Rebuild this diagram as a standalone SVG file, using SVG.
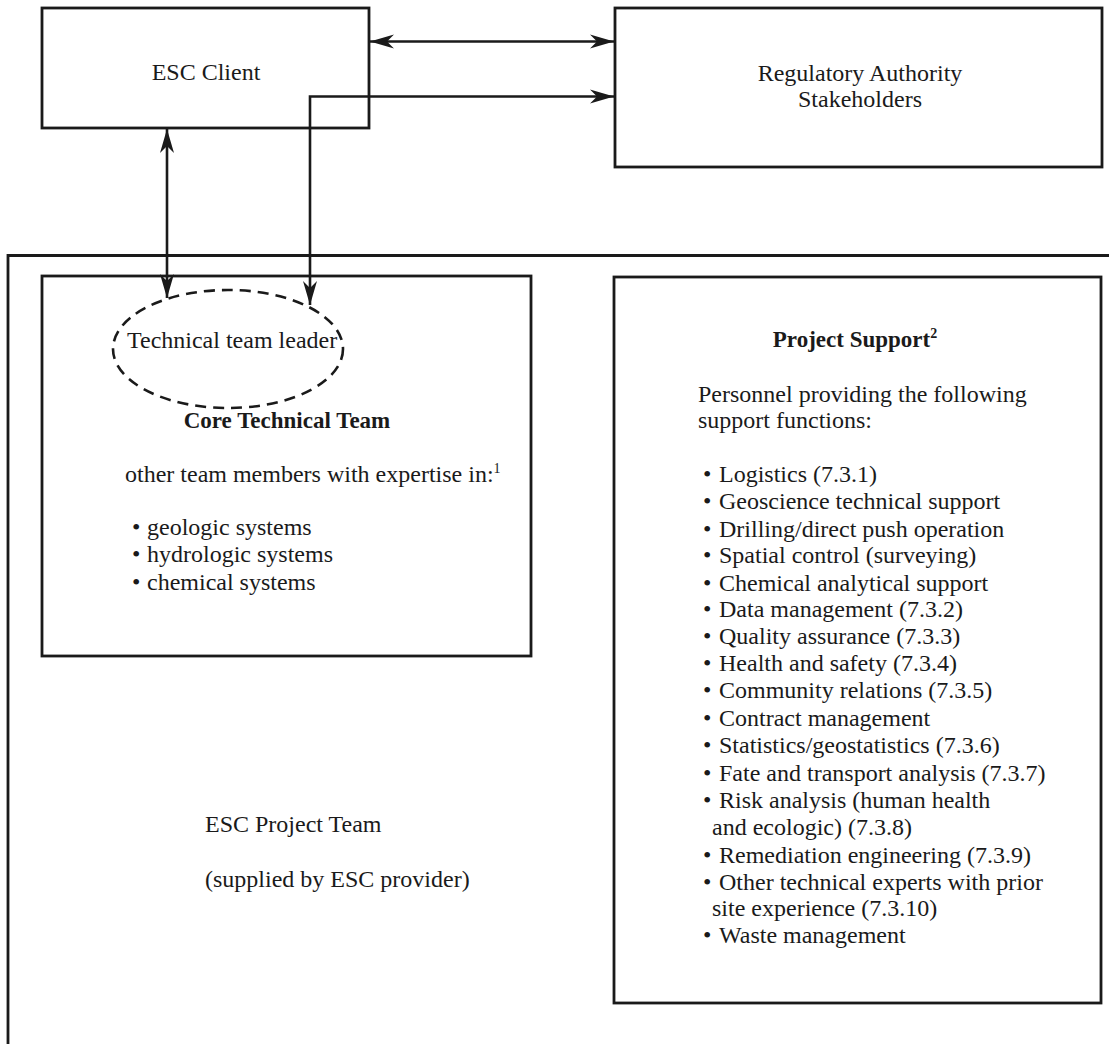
<svg xmlns="http://www.w3.org/2000/svg" width="1109" height="1044" viewBox="0 0 1109 1044">
<style>
.box{fill:none;stroke:#1a1a1a;stroke-width:2.8}
.ln{fill:none;stroke:#1a1a1a;stroke-width:2.6}
.t{font-family:"Liberation Serif","Times New Roman",serif;font-size:24px;fill:#1a1a1a}
.b{font-family:"Liberation Serif","Times New Roman",serif;font-size:23px;font-weight:bold;fill:#1a1a1a}
.sup{font-size:14px}
</style>
<defs>
<marker id="ah" markerUnits="userSpaceOnUse" markerWidth="26" markerHeight="16" refX="24" refY="8" orient="auto-start-reverse">
<path d="M0,1 L24,8 L0,15 L7,8 z" fill="#1a1a1a"/>
</marker>
</defs>
<rect width="1109" height="1044" fill="#fff"/>

<g id="esc-project-team">
<path class="box" d="M1109,255.5 H8 V1044"/>
<text class="t" x="205" y="832">ESC Project Team</text>
<text class="t" x="205" y="887">(supplied by ESC provider)</text>
</g>

<g id="esc-client">
<rect class="box" x="42" y="8" width="327" height="120"/>
<text class="t" x="206" y="80" text-anchor="middle">ESC Client</text>
</g>

<g id="regulatory">
<rect class="box" x="615" y="8" width="487" height="159"/>
<text class="t" x="860" y="81" text-anchor="middle">Regulatory Authority</text>
<text class="t" x="860" y="107" text-anchor="middle">Stakeholders</text>
</g>

<g id="core-team">
<rect class="box" x="42" y="276" width="489" height="380"/>
<text class="b" x="287" y="428" text-anchor="middle">Core Technical Team</text>
<text class="t" x="125" y="482">other team members with expertise in:<tspan class="sup" dy="-9">1</tspan></text>
<text class="t" y="535"><tspan x="132">•</tspan><tspan x="147">geologic systems</tspan></text>
<text class="t" y="562"><tspan x="132">•</tspan><tspan x="147">hydrologic systems</tspan></text>
<text class="t" y="590"><tspan x="132">•</tspan><tspan x="147">chemical systems</tspan></text>
</g>

<g id="team-leader">
<ellipse cx="228" cy="349" rx="115" ry="59" fill="none" stroke="#1a1a1a" stroke-width="2.6" stroke-dasharray="11 7"/>
<text class="t" x="127" y="348">Technical team leader</text>
</g>

<g id="project-support">
<rect class="box" x="614" y="277" width="487" height="726"/>
<text class="b" x="855" y="347" text-anchor="middle">Project Support<tspan class="sup" dy="-9">2</tspan></text>
<text class="t" x="698" y="402">Personnel providing the following</text>
<text class="t" x="698" y="428">support functions:</text>
<g class="t">
<text y="482"><tspan x="703">•</tspan><tspan x="719">Logistics (7.3.1)</tspan></text>
<text y="509"><tspan x="703">•</tspan><tspan x="719">Geoscience technical support</tspan></text>
<text y="537"><tspan x="703">•</tspan><tspan x="719">Drilling/direct push operation</tspan></text>
<text y="563"><tspan x="703">•</tspan><tspan x="719">Spatial control (surveying)</tspan></text>
<text y="591"><tspan x="703">•</tspan><tspan x="719">Chemical analytical support</tspan></text>
<text y="617"><tspan x="703">•</tspan><tspan x="719">Data management (7.3.2)</tspan></text>
<text y="644"><tspan x="703">•</tspan><tspan x="719">Quality assurance (7.3.3)</tspan></text>
<text y="671"><tspan x="703">•</tspan><tspan x="719">Health and safety (7.3.4)</tspan></text>
<text y="698"><tspan x="703">•</tspan><tspan x="719">Community relations (7.3.5)</tspan></text>
<text y="726"><tspan x="703">•</tspan><tspan x="719">Contract management</tspan></text>
<text y="753"><tspan x="703">•</tspan><tspan x="719">Statistics/geostatistics (7.3.6)</tspan></text>
<text y="781"><tspan x="703">•</tspan><tspan x="719">Fate and transport analysis (7.3.7)</tspan></text>
<text y="808"><tspan x="703">•</tspan><tspan x="719">Risk analysis (human health</tspan></text>
<text y="835" x="712">and ecologic) (7.3.8)</text>
<text y="863"><tspan x="703">•</tspan><tspan x="719">Remediation engineering (7.3.9)</tspan></text>
<text y="890"><tspan x="703">•</tspan><tspan x="719">Other technical experts with prior</tspan></text>
<text y="916" x="712">site experience (7.3.10)</text>
<text y="943"><tspan x="703">•</tspan><tspan x="719">Waste management</tspan></text>
</g>
</g>

<g id="connectors">
<line class="ln" x1="370" y1="41.5" x2="614" y2="41.5" marker-start="url(#ah)" marker-end="url(#ah)"/>
<path class="ln" d="M310,305 V96.5 H614" marker-start="url(#ah)" marker-end="url(#ah)"/>
<line class="ln" x1="167" y1="129" x2="167" y2="298" marker-start="url(#ah)" marker-end="url(#ah)"/>
</g>
</svg>
